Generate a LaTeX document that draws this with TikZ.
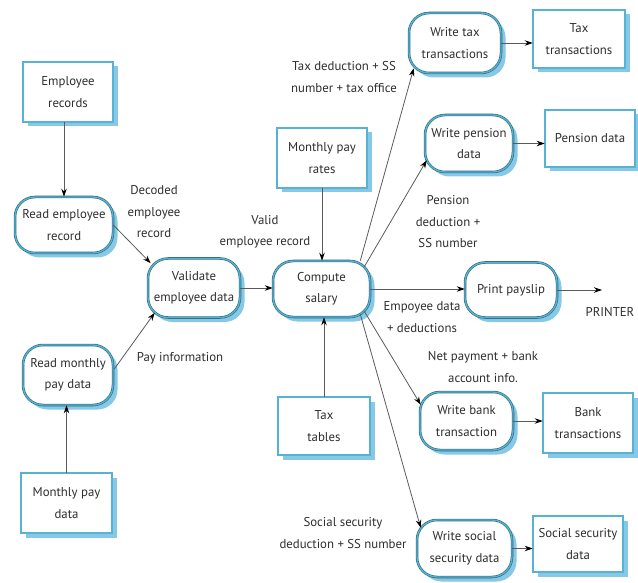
\documentclass[tikz,border=0pt]{standalone}
\usepackage{fontspec}
\setmainfont{PT Sans}
\usetikzlibrary{arrows.meta,shadows}
\definecolor{edgeteal}{HTML}{2B6A7C}
\definecolor{innerblue}{HTML}{58B2D4}
\definecolor{shadowblue}{HTML}{86C8E6}
\definecolor{inkgray}{HTML}{2E2E2E}
\definecolor{linegray}{HTML}{5A5A5A}
\begin{document}
\begin{tikzpicture}[x=1pt,y=-1pt,
  every node/.style={font=\fontsize{12.8}{21.5}\selectfont, text=inkgray, align=center, inner sep=0pt},
  shapebase/.style={draw=edgeteal, double=innerblue, double distance=1.3pt, line width=0.6pt,
    fill=white, drop shadow={shadow xshift=4.5pt, shadow yshift=-4.5pt, fill=shadowblue, opacity=1, draw=none}},
  store/.style={shapebase, rectangle},
  proc/.style={shapebase, rectangle, rounded corners=20pt},
  flow/.style={draw=linegray, line width=0.8pt, -{Stealth[length=8pt,width=5.5pt,black]}},
]
\useasboundingbox (0,0) rectangle (638,583);

% data stores
\node[store, minimum width=90pt, minimum height=60pt] (emprec) at (68,92) {Employee\\records};
\node[store, minimum width=91pt, minimum height=60pt] (mpd) at (66.5,503) {Monthly pay\\data};
\node[store, minimum width=90pt, minimum height=60pt] (mpr) at (322,158) {Monthly pay\\rates};
\node[store, minimum width=92pt, minimum height=58pt] (taxtab) at (324,426) {Tax\\tables};
\node[store, minimum width=92pt, minimum height=58pt] (taxtr) at (579,39) {Tax\\transactions};
\node[store, minimum width=90pt, minimum height=57pt] (pens) at (590,138.5) {Pension data};
\node[store, minimum width=90pt, minimum height=60pt] (bank) at (588,423) {Bank\\transactions};
\node[store, minimum width=90pt, minimum height=56pt] (ssd) at (578,544) {Social security\\data};

% processes
\node[proc, minimum width=98pt, minimum height=56pt] (reademp) at (64,225) {Read employee\\record};
\node[proc, minimum width=92pt, minimum height=59pt] (validate) at (194,288) {Validate\\employee data};
\node[proc, minimum width=97pt, minimum height=56pt] (compute) at (321.5,289) {Compute\\salary};
\node[proc, minimum width=90pt, minimum height=60pt] (readmp) at (68,375) {Read monthly\\pay data};
\node[proc, minimum width=92pt, minimum height=60pt] (wtax) at (455,43) {Write tax\\transactions};
\node[proc, minimum width=88pt, minimum height=57pt] (wpens) at (469,143.5) {Write pension\\data};
\node[proc, minimum width=92pt, minimum height=55pt] (print) at (511,290) {Print payslip};
\node[proc, minimum width=93pt, minimum height=58pt] (wbank) at (466.5,421) {Write bank\\transaction};
\node[proc, minimum width=95pt, minimum height=57pt] (wss) at (464.5,548.5) {Write social\\security data};

% printer output
\coordinate (prt) at (602,290);
\node (printer) at (610,312) {PRINTER};

% flow labels
\node (ltax) at (344,77) {Tax deduction + SS\\number + tax office};
\node (ldec) at (154,212) {Decoded\\employee\\record};
\node (lvalid) at (265,232) {Valid\\employee record};
\node (lpay) at (180,358) {Pay information};
\node (lpens) at (448,222) {Pension\\deduction +\\SS number};
\node (lemp) at (422,317) {Empoyee data\\+ deductions};
\node (lnet) at (483,367) {Net payment + bank\\account info.};
\node (lss) at (343,533) {Social security\\deduction + SS number};

% data flows
\draw[flow] (reademp.north |- emprec.south) -- (reademp.north);
\draw[flow] (reademp.east) -- ([shift={(3,5)}]validate.north west);
\draw[flow] (mpd.north) -- (mpd.north |- readmp.south);
\draw[flow] ([shift={(1,-6)}]readmp.east) -- ([shift={(7,-5)}]validate.south west);
\draw[flow] (validate.east) -- (validate.east -| compute.west);
\draw[flow] (mpr.south) -- (mpr.south |- compute.north);
\draw[flow] (taxtab.north) -- (taxtab.north |- compute.south);
\draw[flow] ([shift={(-10,0)}]compute.north east) -- ([shift={(5,-5)}]wtax.south west);
\draw[flow] ([shift={(-6,6)}]compute.north east) -- ([shift={(2,-12)}]wpens.south west);
\draw[flow] (compute.east) -- (compute.east -| print.west);
\draw[flow] ([shift={(-6,-6)}]compute.south east) -- ([shift={(1,13)}]wbank.north west);
\draw[flow] ([shift={(-10,-3)}]compute.south east) -- ([shift={(4,8)}]wss.north west);
\draw[flow] (print.east) -- (prt);
\draw[flow] (wtax.east) -- (wtax.east -| taxtr.west);
\draw[flow] (wpens.east) -- (wpens.east -| pens.west);
\draw[flow] (wbank.east) -- (wbank.east -| bank.west);
\draw[flow] (wss.east) -- (wss.east -| ssd.west);
\end{tikzpicture}
\end{document}
